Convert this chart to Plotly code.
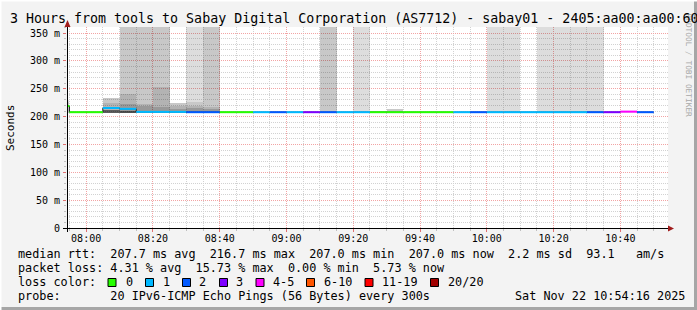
import plotly.graph_objects as go

DAY = "2025-11-22"

# ---- data -------------------------------------------------------------
step_times = ["07:50", "07:55", "08:00", "08:05", "08:10", "08:15", "08:20", "08:25",
              "08:30", "08:35", "08:40", "08:45", "08:50", "08:55", "09:00", "09:05",
              "09:10", "09:15", "09:20", "09:25", "09:30", "09:35", "09:40", "09:45",
              "09:50", "09:55", "10:00", "10:05", "10:10", "10:15", "10:20", "10:25",
              "10:30", "10:35", "10:40", "10:45"]
last_step_end = "10:50"

median_ms = [219.0, 208.0, 208.0, 215.5, 214.0, 208.5, 208.5, 208.5,
             208.0, 208.0, 208.0, 208.0, 208.0, 208.0, 208.0, 208.0,
             208.0, 208.0, 208.0, 208.0, 208.0, 208.0, 208.0, 208.0,
             208.0, 208.0, 208.0, 208.0, 208.0, 208.0, 208.0, 208.0,
             208.0, 208.0, 209.0, 208.0]

loss_count = [0, 0, 0, 1, 1, 1, 1, 1, 2, 2, 0, 0, 1, 2, 1, 3,
              2, 1, 1, 0, 0, 0, 0, 0, 1, 2, 1, 1, 1, 1, 1, 1,
              2, 3, 4, 2]

N = None
smoke_lo = [207, N, N, 206, 206, 207, 207, 207, 207, 207, N, N, N, N, N, N,
            207, N, 207, 207, 207, N, N, N, N, N, 207, 207, N, 207, 207, 207,
            207, N, N, N]
# smoke layers, outermost (lightest) to innermost (darkest): upper edge in ms
smoke_l1 = [230, N, N, 234, 400, 400, 400, 225, 400, 400, N, N, N, N, N, N,
            400, N, 400, 211, 213, N, N, N, N, N, 400, 400, N, 400, 400, 400,
            400, N, N, N]
smoke_l2 = [226, N, N, 234, 400, 400, 400, 225, 226, 400, N, N, N, N, N, N,
            400, N, N, 211, 213, N, N, N, N, N, N, N, N, N, N, N,
            N, N, N, N]
smoke_l3 = [N, N, N, 224, 240, 222, 254, 219, 220, 218, N, N, N, N, N, N,
            N, N, N, N, N, N, N, N, N, N, N, N, N, N, N, N,
            N, N, N, N]
smoke_l4 = [N, N, N, N, 222, 219, 217, 214, 215, 214, N, N, N, N, N, N,
            N, N, N, N, N, N, N, N, N, N, N, N, N, N, N, N,
            N, N, N, N]
smoke_l5 = [N, N, N, 212, 211, N, N, N, N, N, N, N, N, N, N, N,
            N, N, N, N, N, N, N, N, N, N, N, N, N, N, N, N,
            N, N, N, N]

loss_labels = ["0", "1", "2", "3", "4-5", "6-10", "11-19", "20/20"]
loss_upper = [0, 1, 2, 3, 5, 10, 19, 20]
loss_colors = ["#26ff00", "#00b8ff", "#0059ff", "#7e00ff", "#ff00ff",
               "#ff5500", "#ff0000", "#a10000"]

y_tick_vals = [0, 50, 100, 150, 200, 250, 300, 350]
y_tick_text = ["0", "50 m", "100 m", "150 m", "200 m", "250 m", "300 m", "350 m"]
x_tick_times = ["08:00", "08:20", "08:40", "09:00", "09:20", "09:40", "10:00", "10:20", "10:40"]
x_tick_text = ["08:00", "08:20", "08:40", "09:00", "09:20", "09:40", "10:00", "10:20", "10:40"]

title_text = "3 Hours from tools to Sabay Digital Corporation (AS7712) - sabay01 - 2405:aa00:aa00:60"
row_median = "median rtt:  207.7 ms avg  216.7 ms max  207.0 ms min  207.0 ms now  2.2 ms sd  93.1   am/s"
row_loss = "packet loss: 4.31 % avg  15.73 % max  0.00 % min  5.73 % now"
row_color = "loss color:"
row_probe = "probe:       20 IPv6-ICMP Echo Pings (56 Bytes) every 300s"
row_date = "Sat Nov 22 10:54:16 2025"

# ---- geometry helpers (pixels -> paper) -------------------------------
W, H = 697, 310
L, R, T, B = 67, 668, 27, 228


def px(x):
    return (x - L) / (R - L)


def py(y):
    return (B - y) / (B - T)


def ts(hm):
    return f"{DAY} {hm}:00"


MONO = "DejaVu Sans Mono"
STEP_MS = 300000

fig = go.Figure()

# smoke
layer_alpha = [0.133, 0.095, 0.10, 0.144, 0.48]
for hi_list, a in zip([smoke_l1, smoke_l2, smoke_l3, smoke_l4, smoke_l5], layer_alpha):
    xs, ys, bs = [], [], []
    for t, lo, hi in zip(step_times, smoke_lo, hi_list):
        if hi is None or lo is None:
            continue
        xs.append(ts(t))
        bs.append(lo)
        ys.append(hi - lo)
    fig.add_trace(go.Bar(x=xs, y=ys, base=bs, width=STEP_MS, offset=0,
                         marker=dict(color=f"rgba(0,0,0,{a})", line=dict(width=0)),
                         hoverinfo="skip", showlegend=False))

# thin dark median line (step)
edges = [ts(t) for t in step_times] + [ts(last_step_end)]
fig.add_trace(go.Scatter(x=edges, y=median_ms + [median_ms[-1]], mode="lines",
                         line=dict(color="#202020", width=1, shape="hv"),
                         hoverinfo="skip", showlegend=False))


def bucket(n):
    for i, u in enumerate(loss_upper):
        if n <= u:
            return i
    return len(loss_upper) - 1


for bi, col in enumerate(loss_colors):
    xs, ys = [], []
    for i, (m, n) in enumerate(zip(median_ms, loss_count)):
        if bucket(n) != bi:
            continue
        xs += [edges[i], edges[i + 1], None]
        ys += [m, m, None]
    if xs:
        fig.add_trace(go.Scatter(x=xs, y=ys, mode="lines",
                                 line=dict(color=col, width=2),
                                 hoverinfo="skip", showlegend=False))

# ---- annotations -------------------------------------------------------
ann = []


def text(x, y, s, size=11.8, color="#000000", xanchor="left", angle=0, family=MONO):
    ann.append(dict(x=px(x), y=py(y), xref="paper", yref="paper", text=s.replace(" ", "\u00a0"),
                    showarrow=False, xanchor=xanchor, yanchor="middle", textangle=angle,
                    font=dict(family=family, size=size, color=color)))


text(688.5, 65, "RRDTOOL / TOBI OETIKER", size=7.8, color="#a8a8a8", xanchor="center", angle=90)
text(8, 19, title_text, size=13.3)
text(10, 128, "Seconds", size=11, xanchor="center", angle=-90)
text(16, 254, row_median)
text(16, 268, row_loss)
text(16, 282, row_color)
text(16, 296, row_probe)
text(513, 296, row_date)

square_x = [108, 145.5, 182.5, 219.5, 256, 306.5, 365, 430.5]
label_x = [123.5, 160.5, 197, 234, 271, 322, 380, 446]
shapes = []
for sx, lx, lab, col in zip(square_x, label_x, loss_labels, loss_colors):
    shapes.append(dict(type="rect", xref="paper", yref="paper",
                       x0=px(sx), x1=px(sx + 8), y0=py(286.5), y1=py(278.5),
                       fillcolor=col, line=dict(color="#000000", width=1)))
    text(lx, 282, lab)

# frame / axes lines / arrows
shapes += [
    dict(type="line", xref="paper", yref="paper", x0=px(0), x1=px(W), y0=py(308.5), y1=py(308.5),
         line=dict(color="#a6a6a6", width=3)),
    dict(type="line", xref="paper", yref="paper", x0=px(695.5), x1=px(695.5), y0=py(0), y1=py(H),
         line=dict(color="#a6a6a6", width=3)),
    dict(type="line", xref="paper", yref="paper", x0=px(0), x1=px(W), y0=py(0.5), y1=py(0.5),
         line=dict(color="#ffffff", width=2)),
    dict(type="line", xref="paper", yref="paper", x0=px(0.5), x1=px(0.5), y0=py(0), y1=py(H),
         line=dict(color="#ffffff", width=2)),
    dict(type="line", xref="paper", yref="paper", x0=px(63), x1=px(670), y0=py(228.5), y1=py(228.5),
         line=dict(color="#000000", width=1)),
    dict(type="line", xref="paper", yref="paper", x0=px(67.5), x1=px(67.5), y0=py(232), y1=py(24),
         line=dict(color="#000000", width=1)),
    dict(type="path", xref="paper", yref="paper",
         path=f"M {px(668)} {py(225.5)} L {px(674)} {py(228.5)} L {px(668)} {py(231.5)} Z",
         fillcolor="#a01c1c", line=dict(width=0)),
    dict(type="path", xref="paper", yref="paper",
         path=f"M {px(64.5)} {py(27)} L {px(67.5)} {py(20)} L {px(70.5)} {py(27)} Z",
         fillcolor="#a01c1c", line=dict(width=0)),
]

GRID_MIN = "#d2d2d2"
GRID_MAJ = "#f2a4a4"

fig.update_layout(
    width=W, height=H,
    margin=dict(l=L, r=W - R, t=T, b=H - B, pad=0),
    paper_bgcolor="#f3f3f3", plot_bgcolor="#ffffff",
    barmode="overlay", bargap=0,
    showlegend=False,
    annotations=ann, shapes=shapes,
    xaxis=dict(type="date", range=[f"{DAY} 07:54:16", f"{DAY} 10:54:16"],
               tickmode="array", tickvals=[ts(t) for t in x_tick_times], ticktext=x_tick_text,
               showgrid=True, gridcolor=GRID_MAJ, griddash="1px,1px", gridwidth=1,
               ticks="outside", ticklen=3, tickcolor="#e07070", ticklabelstandoff=-2,
               minor=dict(tickmode="linear", tick0=ts("08:00"), dtick=STEP_MS, showgrid=True,
                          gridcolor=GRID_MIN, griddash="1px,1px", ticks="outside", ticklen=2,
                          tickcolor="#c0c0c0"),
               showline=False, zeroline=False, fixedrange=True,
               tickfont=dict(family=MONO, size=10, color="#000000")),
    yaxis=dict(range=[0, 361], tickmode="array", tickvals=y_tick_vals, ticktext=y_tick_text,
               showgrid=True, gridcolor=GRID_MAJ, griddash="1px,1px", gridwidth=1,
               ticks="outside", ticklen=3, tickcolor="#e07070", ticklabelstandoff=1,
               minor=dict(tickmode="linear", tick0=0, dtick=10, showgrid=True,
                          gridcolor=GRID_MIN, griddash="1px,1px", ticks="outside", ticklen=2,
                          tickcolor="#c0c0c0"),
               showline=False, zeroline=False, fixedrange=True,
               tickfont=dict(family=MONO, size=10, color="#000000")),
)

fig.write_html("out.html", config={"displayModeBar": False})
